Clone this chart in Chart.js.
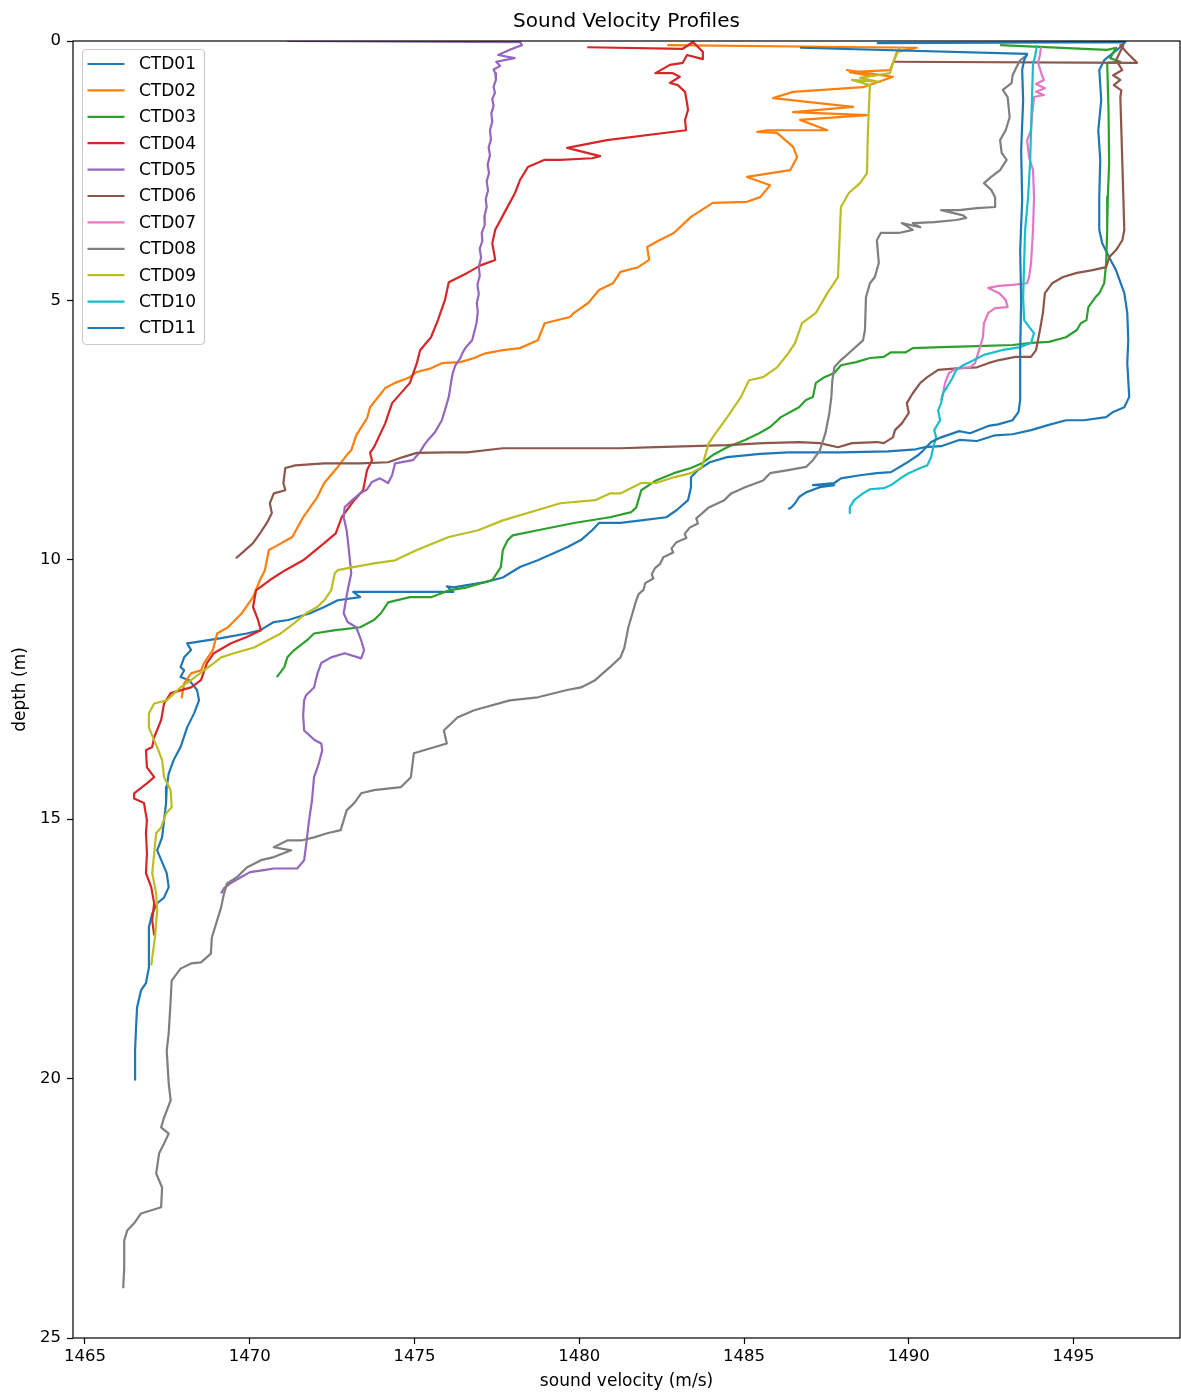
<!DOCTYPE html>
<html>
<head>
<meta charset="utf-8">
<title>Sound Velocity Profiles</title>
<script src="https://cdn.jsdelivr.net/npm/chart.js@4.4.1/dist/chart.umd.min.js"></script>
<style>
  html, body { margin: 0; padding: 0; background: #ffffff; }
  canvas { display: block; }
</style>
</head>
<body>
<canvas id="svp" width="1181" height="1396" style="width:1181px;height:1396px"></canvas>
<script>
// Cast names and line colours
const profileNames = ['CTD01', 'CTD02', 'CTD03', 'CTD04', 'CTD05', 'CTD06', 'CTD07', 'CTD08', 'CTD09', 'CTD10', 'CTD11'];
const profileColors = ['#1f77b4', '#ff7f0e', '#2ca02c', '#d62728', '#9467bd', '#8c564b', '#e377c2', '#7f7f7f', '#bcbd22', '#17becf', '#1f77b4'];

// Axis ticks
const velocityTicks = [1465, 1470, 1475, 1480, 1485, 1490, 1495];
const depthTicks = [0, 5, 10, 15, 20, 25];

const chartTitle = 'Sound Velocity Profiles';
const velocityLabel = 'sound velocity (m/s)';
const depthLabel = 'depth (m)';

// Sound velocity (m/s) and depth (m) for each cast
const ctd01Velocity = [1489.03,1496.57,1496.42,1495.93,1495.78,1495.84,1495.75,1495.81,1495.78,1495.78,
  1495.87,1496.08,1496.29,1496.54,1496.63,1496.66,1496.63,1496.69,1496.54,1496.20,
  1495.99,1495.31,1494.77,1494.25,1493.71,1493.15,1492.62,1492.07,1491.53,1490.98,
  1490.47,1490.21,1489.37,1487.91,1486.34,1485.49,1484.49,1483.96,1483.60,1483.39,
  1483.39,1483.30,1482.96,1482.64,1481.88,1481.25,1480.60,1480.39,1480.05,1479.63,
  1478.74,1478.20,1477.68,1477.15,1476.18,1475.98,1476.18,1475.50,1473.89,1473.14,
  1473.35,1472.67,1472.26,1471.83,1471.17,1470.73,1470.31,1469.91,1469.13,1468.31,
  1468.10,1468.22,1468.01,1467.90,1468.01,1467.90,1468.16,1468.40,1468.46,1468.31,
  1468.10,1467.90,1467.69,1467.54,1467.48,1467.46,1467.40,1467.34,1467.19,1467.48,
  1467.54,1467.40,1467.19,1467.04,1466.94,1466.94,1466.94,1466.85,1466.70,1466.58,
  1466.55,1466.52,1466.52,1466.52];
const ctd01Depth = [0.04,0.02,0.12,0.37,0.56,1.14,1.72,2.29,3.01,3.64,
  3.90,4.17,4.42,4.86,5.24,5.77,6.21,6.86,7.06,7.15,
  7.25,7.31,7.31,7.40,7.50,7.58,7.60,7.71,7.69,7.81,
  7.83,7.87,7.91,7.93,7.93,7.96,8.02,8.12,8.27,8.41,
  8.60,8.85,9.04,9.18,9.24,9.29,9.29,9.43,9.62,9.76,
  10.01,10.14,10.34,10.43,10.53,10.51,10.62,10.62,10.62,10.62,
  10.72,10.78,10.91,11.03,11.16,11.20,11.36,11.42,11.51,11.59,
  11.61,11.74,11.88,12.07,12.13,12.26,12.32,12.51,12.71,12.96,
  13.23,13.61,13.86,14.12,14.38,14.69,15.02,15.35,15.60,16.04,
  16.31,16.51,16.62,16.82,17.08,17.53,17.86,18.16,18.30,18.63,
  19.01,19.46,19.78,20.02];

const ctd02Velocity = [1482.67,1490.24,1489.64,1489.52,1489.43,1488.21,1488.82,1488.12,1489.52,1488.61,
  1486.49,1485.88,1488.31,1486.49,1488.73,1486.70,1487.53,1485.70,1485.40,1486.00,
  1486.49,1486.61,1486.40,1485.09,1485.79,1485.49,1485.09,1484.05,1483.39,1482.87,
  1482.43,1482.06,1482.12,1481.79,1481.25,1481.02,1480.60,1480.27,1479.84,1479.72,
  1478.95,1478.74,1478.20,1477.68,1477.15,1476.81,1476.39,1475.83,1475.50,1475.07,
  1474.86,1474.41,1474.11,1473.65,1473.56,1473.23,1473.08,1473.00,1472.67,1472.26,
  1472.05,1471.62,1471.29,1470.73,1470.58,1470.46,1470.31,1470.10,1469.76,1469.34,
  1469.01,1468.88,1468.61,1468.52,1468.22,1468.01,1467.93];
const ctd02Depth = [0.08,0.13,0.21,0.42,0.56,0.60,0.67,0.56,0.69,0.89,
  0.98,1.10,1.27,1.37,1.43,1.52,1.72,1.72,1.75,1.77,
  2.04,2.24,2.49,2.62,2.78,3.01,3.10,3.12,3.39,3.70,
  3.84,3.97,4.22,4.36,4.45,4.67,4.80,5.05,5.24,5.32,
  5.44,5.77,5.92,5.96,6.02,6.11,6.19,6.21,6.31,6.38,
  6.48,6.59,6.69,7.06,7.27,7.60,7.89,7.94,8.21,8.52,
  8.79,9.18,9.56,9.76,9.81,10.20,10.39,10.72,11.03,11.30,
  11.42,11.74,11.99,12.13,12.19,12.38,12.67];

const ctd03Velocity = [1492.77,1496.02,1496.29,1496.11,1496.42,1496.02,1496.06,1496.08,1496.04,1496.02,
  1495.99,1495.93,1495.78,1495.66,1495.45,1495.39,1495.22,1495.10,1494.77,1494.25,
  1493.71,1493.15,1492.07,1490.98,1490.12,1489.91,1489.46,1489.24,1488.82,1488.40,
  1487.94,1487.74,1487.44,1487.18,1487.09,1486.88,1486.67,1486.12,1485.79,1485.46,
  1485.03,1484.49,1484.05,1483.72,1483.39,1482.87,1482.33,1481.88,1481.73,1481.58,
  1480.93,1479.84,1478.74,1477.98,1477.83,1477.68,1477.62,1477.36,1476.60,1476.04,
  1475.50,1474.86,1474.20,1473.98,1473.77,1473.35,1472.55,1471.95,1471.74,1471.35,
  1471.14,1471.05,1470.82];
const ctd03Depth = [0.08,0.17,0.13,0.33,0.40,0.42,1.30,2.35,3.00,3.64,
  4.28,4.67,4.86,4.94,5.13,5.38,5.44,5.57,5.71,5.80,
  5.82,5.86,5.88,5.90,5.92,6.00,6.00,6.09,6.11,6.19,
  6.25,6.40,6.48,6.59,6.86,6.92,7.06,7.25,7.44,7.56,
  7.69,7.83,7.98,8.14,8.23,8.33,8.47,8.66,8.99,9.08,
  9.18,9.29,9.43,9.53,9.62,9.81,10.14,10.39,10.53,10.59,
  10.72,10.72,10.82,11.03,11.16,11.30,11.36,11.42,11.55,11.74,
  11.88,12.07,12.26];

const ctd04Velocity = [1480.24,1483.14,1483.45,1483.75,1483.75,1483.27,1483.14,1482.75,1482.31,1482.84,
  1483.05,1482.75,1482.99,1483.21,1483.27,1483.30,1483.21,1483.24,1480.84,1479.63,
  1480.63,1480.39,1479.42,1478.95,1478.44,1478.20,1478.05,1477.77,1477.45,1477.36,
  1477.45,1477.02,1476.60,1476.04,1475.92,1475.71,1475.50,1475.17,1475.07,1474.86,
  1474.32,1474.11,1473.77,1473.65,1473.71,1473.56,1473.44,1473.17,1472.79,1472.61,
  1472.26,1471.62,1471.08,1470.61,1470.19,1470.10,1470.25,1470.34,1469.91,1469.43,
  1468.91,1468.70,1468.52,1468.22,1467.60,1467.40,1467.31,1467.10,1467.04,1466.85,
  1466.88,1467.10,1466.88,1466.49,1466.49,1466.79,1466.88,1466.85,1466.88,1466.85,
  1467.01,1467.10,1467.04,1467.10];
const ctd04Depth = [0.12,0.15,0.02,0.21,0.35,0.27,0.42,0.46,0.62,0.62,
  0.69,0.81,0.85,0.98,1.20,1.33,1.52,1.72,1.91,2.06,
  2.22,2.26,2.29,2.29,2.43,2.68,2.93,3.26,3.64,3.90,
  4.22,4.32,4.47,4.65,5.00,5.38,5.71,5.96,6.21,6.59,
  6.98,7.37,7.83,7.94,8.08,8.27,8.66,8.85,9.18,9.49,
  9.68,10.01,10.20,10.39,10.59,10.91,11.16,11.36,11.49,11.61,
  11.80,11.99,12.32,12.46,12.57,12.77,13.09,13.42,13.61,13.67,
  14.00,14.19,14.31,14.50,14.60,14.69,15.02,15.27,15.66,16.04,
  16.31,16.62,16.95,17.24];

const ctd05Velocity = [1471.14,1478.20,1478.26,1477.89,1477.54,1478.04,1477.48,1477.60,1477.40,1477.45,
  1477.47,1477.40,1477.44,1477.36,1477.40,1477.33,1477.36,1477.29,1477.32,1477.25,
  1477.29,1477.22,1477.26,1477.19,1477.23,1477.16,1477.19,1477.12,1477.13,1477.04,
  1477.06,1476.98,1477.02,1476.95,1476.98,1476.91,1476.95,1476.89,1476.92,1476.88,
  1476.75,1476.62,1476.54,1476.45,1476.39,1476.30,1476.24,1476.16,1476.12,1476.08,
  1476.04,1475.92,1475.83,1475.62,1475.41,1475.30,1475.17,1474.95,1474.41,1474.32,
  1474.20,1473.95,1473.71,1473.55,1473.35,1473.11,1472.88,1472.85,1472.94,1473.00,
  1473.08,1472.97,1472.85,1472.97,1473.23,1473.38,1473.47,1473.38,1472.88,1472.47,
  1472.17,1472.05,1471.95,1471.71,1471.65,1471.62,1471.65,1471.98,1472.17,1472.20,
  1472.08,1471.95,1471.89,1471.80,1471.71,1471.65,1471.44,1470.73,1470.43,1470.01,
  1469.73,1469.40,1469.22,1469.13];
const ctd05Depth = [0.00,0.02,0.08,0.17,0.27,0.33,0.40,0.48,0.55,0.62,
  0.75,0.88,1.00,1.12,1.25,1.40,1.55,1.72,1.90,2.05,
  2.20,2.38,2.55,2.70,2.88,3.05,3.20,3.38,3.55,3.70,
  3.85,4.00,4.18,4.35,4.52,4.70,4.88,5.05,5.22,5.44,
  5.77,5.86,5.92,6.02,6.11,6.20,6.25,6.40,6.54,6.70,
  6.86,7.12,7.31,7.54,7.69,7.78,7.92,8.08,8.14,8.37,
  8.52,8.43,8.50,8.65,8.72,8.85,8.99,9.18,9.43,9.76,
  10.26,10.59,11.03,11.20,11.30,11.55,11.74,11.90,11.80,11.88,
  11.99,12.20,12.46,12.61,12.71,13.00,13.29,13.48,13.54,13.67,
  13.96,14.19,14.63,15.02,15.50,15.79,15.95,15.95,15.98,16.02,
  16.12,16.24,16.33,16.43];

const ctd06Velocity = [1489.52,1496.93,1496.63,1496.42,1496.51,1496.29,1496.48,1496.20,1496.42,1496.22,
  1496.45,1496.42,1496.48,1496.54,1496.48,1496.29,1496.08,1495.99,1495.54,1495.10,
  1494.68,1494.35,1494.13,1494.07,1493.98,1493.86,1493.71,1493.24,1492.74,1492.41,
  1492.07,1491.44,1490.89,1490.56,1490.35,1490.12,1489.94,1490.00,1489.79,1489.58,
  1489.52,1489.24,1489.03,1488.28,1487.85,1487.30,1486.67,1485.58,1484.49,1482.33,
  1481.25,1479.84,1477.68,1476.60,1476.04,1475.07,1474.65,1474.20,1473.35,1472.26,
  1471.38,1471.08,1471.02,1471.08,1470.73,1470.61,1470.67,1470.52,1470.31,1470.10,
  1469.76,1469.58];
const ctd06Depth = [0.40,0.42,0.23,0.08,0.08,0.37,0.56,0.66,0.75,0.85,
  0.95,1.08,2.35,3.64,3.84,4.03,4.17,4.36,4.42,4.47,
  4.55,4.67,4.86,5.24,5.57,5.96,6.09,6.09,6.15,6.21,
  6.29,6.31,6.34,6.48,6.59,6.79,6.98,7.17,7.37,7.50,
  7.64,7.75,7.73,7.75,7.83,7.75,7.73,7.75,7.79,7.83,
  7.85,7.85,7.85,7.93,7.93,7.94,8.02,8.12,8.14,8.14,
  8.18,8.23,8.52,8.66,8.72,8.91,9.10,9.29,9.49,9.68,
  9.87,9.97];

const ctd07Velocity = [1494.01,1493.98,1493.92,1494.04,1494.10,1493.86,1494.13,1493.86,1494.10,1493.80,
  1493.74,1493.71,1493.59,1493.65,1493.77,1493.80,1493.77,1493.71,1493.65,1493.59,
  1493.15,1492.74,1492.41,1492.74,1492.94,1493.00,1492.62,1492.41,1492.28,1492.25,
  1492.13,1492.01,1491.86,1491.44,1491.22,1491.10,1491.04,1490.98];
const ctd07Depth = [0.12,0.27,0.42,0.66,0.75,0.83,0.91,0.98,1.04,1.08,
  1.43,1.72,1.91,2.24,2.49,3.01,3.64,4.28,4.55,4.67,
  4.70,4.72,4.76,4.86,4.99,5.13,5.15,5.24,5.44,5.71,
  5.96,6.21,6.29,6.31,6.40,6.59,6.79,6.92];

const ctd08Velocity = [1493.59,1493.38,1493.27,1493.15,1493.12,1492.85,1493.00,1493.06,1492.94,1492.77,
  1492.82,1492.97,1492.77,1492.50,1492.28,1492.50,1492.62,1492.62,1492.07,1491.53,
  1490.98,1491.65,1491.74,1491.44,1490.77,1490.12,1490.35,1489.79,1490.12,1489.70,
  1489.15,1489.03,1489.09,1488.97,1488.82,1488.70,1488.67,1488.61,1488.28,1487.94,
  1487.74,1487.68,1487.65,1487.59,1487.47,1487.30,1487.09,1486.88,1486.34,1485.79,
  1485.58,1485.03,1484.61,1484.40,1483.93,
  1483.70,1483.55,1483.60,1483.35,1483.20,1483.25,1482.95,1482.80,1482.85,1482.55,
  1482.45,1482.30,1482.20,1482.25,1482.00,1481.95,1481.80,1481.72,
  1481.49,1481.37,1481.25,1480.93,1480.48,1480.05,1479.63,1478.74,
  1477.89,1476.81,1476.30,1475.89,1475.98,1474.98,1474.89,1474.59,1473.77,1473.38,
  1473.17,1472.94,1472.76,1472.35,1471.95,1471.56,1471.14,1470.73,1471.26,1470.73,
  1470.34,1469.91,1469.61,1469.31,1469.22,1469.13,1469.01,1468.85,1468.82,1468.52,
  1468.22,1467.90,1467.63,1467.60,1467.54,1467.48,1467.54,1467.60,1467.40,1467.31,
  1467.54,1467.40,1467.25,1467.16,1467.34,1467.31,1466.70,1466.49,1466.28,1466.19,
  1466.19,1466.16];
const ctd08Depth = [0.27,0.37,0.50,0.66,0.81,0.94,1.08,1.47,1.72,1.91,
  2.16,2.29,2.49,2.62,2.74,2.87,3.01,3.20,3.22,3.26,
  3.26,3.36,3.41,3.45,3.49,3.51,3.59,3.51,3.64,3.70,
  3.70,3.84,4.28,4.55,4.67,4.94,5.57,5.77,5.96,6.15,
  6.29,6.54,6.86,7.17,7.56,7.89,8.08,8.21,8.27,8.33,
  8.47,8.60,8.72,8.85,8.99,
  9.12,9.20,9.30,9.38,9.50,9.58,9.66,9.78,9.86,9.95,
  10.08,10.16,10.28,10.36,10.45,10.58,10.66,10.80,
  11.30,11.69,11.88,12.07,12.32,12.46,12.51,12.65,
  12.71,12.90,13.04,13.29,13.54,13.73,14.19,14.38,14.44,14.50,
  14.69,14.83,15.21,15.27,15.35,15.41,15.41,15.54,15.60,15.73,
  15.79,15.93,16.12,16.24,16.43,16.70,16.95,17.28,17.59,17.76,
  17.78,17.88,18.11,18.49,19.13,19.46,20.09,20.42,20.75,20.94,
  21.06,21.25,21.44,21.83,22.10,22.48,22.60,22.79,22.93,23.12,
  23.64,24.04];

const ctd09Velocity = [1489.73,1489.52,1489.43,1488.52,1489.12,1488.28,1488.82,1488.76,1488.73,1488.52,
  1488.18,1487.94,1487.91,1487.85,1487.53,1487.18,1486.76,1486.55,1486.34,1486.00,
  1485.58,1485.15,1484.91,1484.49,1484.14,1483.93,1483.72,1483.39,1482.87,1482.33,
  1481.88,1481.25,1480.93,1480.48,1479.42,1478.74,1477.68,1476.93,1476.04,1475.07,
  1474.41,1473.77,1473.14,1472.67,1472.58,1472.47,1472.26,1472.05,1471.71,1471.35,
  1470.94,1470.13,1469.52,1469.13,1468.91,1468.61,1468.22,1467.90,1467.48,1467.10,
  1466.94,1466.94,1467.10,1467.19,1467.34,1467.40,1467.60,1467.63,1467.46,1467.31,
  1467.16,1467.10,1467.04,1467.16,1467.19,1467.13,1467.01];
const ctd09Depth = [0.12,0.42,0.62,0.71,0.79,0.75,0.85,1.72,2.55,2.74,
  2.93,3.20,3.64,4.55,4.86,5.24,5.44,5.82,6.02,6.29,
  6.48,6.54,6.86,7.25,7.56,7.75,8.21,8.33,8.41,8.52,
  8.52,8.72,8.72,8.85,8.91,9.04,9.24,9.43,9.56,9.81,
  10.01,10.07,10.14,10.20,10.26,10.59,10.78,10.91,11.03,11.22,
  11.42,11.69,11.80,11.88,11.99,12.13,12.32,12.46,12.71,12.77,
  12.96,13.23,13.48,13.61,13.86,14.19,14.44,14.77,14.89,15.16,
  15.27,15.66,16.04,16.43,16.76,17.24,17.82];

const ctd10Velocity = [1493.89,1493.83,1493.77,1493.74,1493.71,1493.68,1493.62,1493.53,1493.50,1493.47,
  1493.50,1493.65,1493.80,1493.71,1493.38,1492.82,1492.28,1491.98,1491.65,1491.44,
  1491.32,1491.16,1491.04,1490.98,1490.89,1490.95,1490.77,1490.83,1490.74,1490.68,
  1490.56,1490.35,1490.00,1489.79,1489.46,1489.24,1488.82,1488.61,1488.34,1488.21,
  1488.21];
const ctd10Depth = [0.08,0.31,0.42,1.08,1.72,2.35,3.01,3.64,4.28,4.94,
  5.38,5.51,5.63,5.82,5.90,5.96,6.05,6.15,6.25,6.34,
  6.50,6.67,6.79,6.98,7.12,7.31,7.50,7.64,7.83,8.02,
  8.18,8.23,8.33,8.41,8.56,8.62,8.64,8.72,8.85,8.99,
  9.10];

const ctd11Velocity = [1486.70,1493.59,1493.50,1493.44,1493.47,1493.41,1493.44,1493.38,1493.41,1493.38,
  1493.38,1493.33,1493.15,1492.71,1492.41,1491.86,1491.53,1490.98,1490.68,1490.44,
  1490.29,1489.91,1489.46,1489.03,1488.52,1487.94,1487.74,1487.09,1487.74,1487.30,
  1486.88,1486.67,1486.55,1486.43,1486.34];
const ctd11Depth = [0.13,0.25,0.37,0.56,1.14,2.10,3.07,4.03,5.00,5.96,
  6.92,7.15,7.31,7.39,7.42,7.56,7.52,7.64,7.73,7.89,
  7.98,8.14,8.31,8.33,8.37,8.43,8.52,8.56,8.56,8.60,
  8.70,8.79,8.91,8.99,9.02];

const profiles = [
  [ctd01Velocity, ctd01Depth], [ctd02Velocity, ctd02Depth], [ctd03Velocity, ctd03Depth],
  [ctd04Velocity, ctd04Depth], [ctd05Velocity, ctd05Depth], [ctd06Velocity, ctd06Depth],
  [ctd07Velocity, ctd07Depth], [ctd08Velocity, ctd08Depth], [ctd09Velocity, ctd09Depth],
  [ctd10Velocity, ctd10Depth], [ctd11Velocity, ctd11Depth]
];

const FONT = 'DejaVu Sans';
const LINE_WIDTH = 2.2;

const datasets = profiles.map(([vel, dep], i) => ({
  label: profileNames[i],
  data: vel.map((v, k) => ({ x: v, y: dep[k] })),
  borderColor: profileColors[i],
  backgroundColor: profileColors[i],
  borderWidth: LINE_WIDTH,
  showLine: true,
  pointRadius: 0,
  pointHoverRadius: 0,
  fill: false,
  tension: 0,
  borderJoinStyle: 'round',
  borderCapStyle: 'butt',
  // later casts are painted over earlier ones
  order: profiles.length - i
}));

// Axes frame, title and the boxed legend in the upper-left corner
const decorations = {
  id: 'decorations',
  afterDraw(chart) {
    const { ctx, chartArea: a } = chart;
    ctx.save();
    ctx.strokeStyle = '#000000';
    ctx.lineWidth = 1.2;
    ctx.strokeRect(a.left, a.top, a.right - a.left, a.bottom - a.top);

    ctx.fillStyle = '#000000';
    ctx.font = '20px "' + FONT + '"';
    ctx.textAlign = 'center';
    ctx.textBaseline = 'middle';
    ctx.fillText(chartTitle, (a.left + a.right) / 2, 22);

    const bx = a.left + 9.5, by = a.top + 8.5, bw = 122, bh = 295, r = 4;
    ctx.beginPath();
    ctx.moveTo(bx + r, by);
    ctx.lineTo(bx + bw - r, by);
    ctx.arcTo(bx + bw, by, bx + bw, by + r, r);
    ctx.lineTo(bx + bw, by + bh - r);
    ctx.arcTo(bx + bw, by + bh, bx + bw - r, by + bh, r);
    ctx.lineTo(bx + r, by + bh);
    ctx.arcTo(bx, by + bh, bx, by + bh - r, r);
    ctx.lineTo(bx, by + r);
    ctx.arcTo(bx, by, bx + r, by, r);
    ctx.closePath();
    ctx.fillStyle = 'rgba(255,255,255,0.8)';
    ctx.fill();
    ctx.strokeStyle = '#cccccc';
    ctx.lineWidth = 1.2;
    ctx.stroke();

    ctx.font = '17px "' + FONT + '"';
    ctx.textAlign = 'left';
    ctx.textBaseline = 'middle';
    profileNames.forEach((name, i) => {
      const y = by + 14.5 + i * 26.4;
      ctx.beginPath();
      ctx.moveTo(bx + 5, y);
      ctx.lineTo(bx + 42, y);
      ctx.strokeStyle = profileColors[i];
      ctx.lineWidth = LINE_WIDTH;
      ctx.stroke();
      ctx.fillStyle = '#000000';
      ctx.fillText(name, bx + 56.5, y + 1);
    });
    ctx.restore();
  }
};

const tickFont = { family: FONT, size: 16.5 };
const labelFont = { family: FONT, size: 17 };

new Chart(document.getElementById('svp'), {
  type: 'scatter',
  data: { datasets },
  options: {
    responsive: false,
    animation: false,
    devicePixelRatio: 1,
    events: [],
    layout: { padding: { top: 41, right: 1, bottom: 0, left: 0 } },
    plugins: {
      legend: { display: false },
      title: { display: false },
      tooltip: { enabled: false }
    },
    scales: {
      x: {
        type: 'linear',
        position: 'bottom',
        min: 1464.636,
        max: 1498.23,
        afterFit(scale) { scale.height = 58; },
        afterBuildTicks(scale) { scale.ticks = velocityTicks.map(value => ({ value })); },
        ticks: {
          color: '#000000',
          font: tickFont,
          padding: 3,
          maxRotation: 0,
          autoSkip: false,
          includeBounds: false,
          callback: v => String(v)
        },
        grid: {
          drawOnChartArea: false,
          drawTicks: true,
          tickLength: 6,
          tickWidth: 1.2,
          tickColor: '#000000',
          color: '#000000'
        },
        border: { display: false },
        title: {
          display: true,
          text: velocityLabel,
          color: '#000000',
          font: labelFont,
          padding: { top: 0, bottom: 4 }
        }
      },
      y: {
        type: 'linear',
        position: 'left',
        reverse: true,
        min: 0,
        max: 25,
        afterFit(scale) { scale.width = 73; },
        afterBuildTicks(scale) { scale.ticks = depthTicks.map(value => ({ value })); },
        ticks: {
          color: '#000000',
          font: tickFont,
          padding: 6,
          autoSkip: false,
          includeBounds: false,
          callback: v => String(v)
        },
        grid: {
          drawOnChartArea: false,
          drawTicks: true,
          tickLength: 6,
          tickWidth: 1.2,
          tickColor: '#000000',
          color: '#000000'
        },
        border: { display: false },
        title: {
          display: true,
          text: depthLabel,
          color: '#000000',
          font: labelFont,
          padding: { top: 10, bottom: 0 }
        }
      }
    }
  },
  plugins: [decorations]
});
</script>
</body>
</html>
